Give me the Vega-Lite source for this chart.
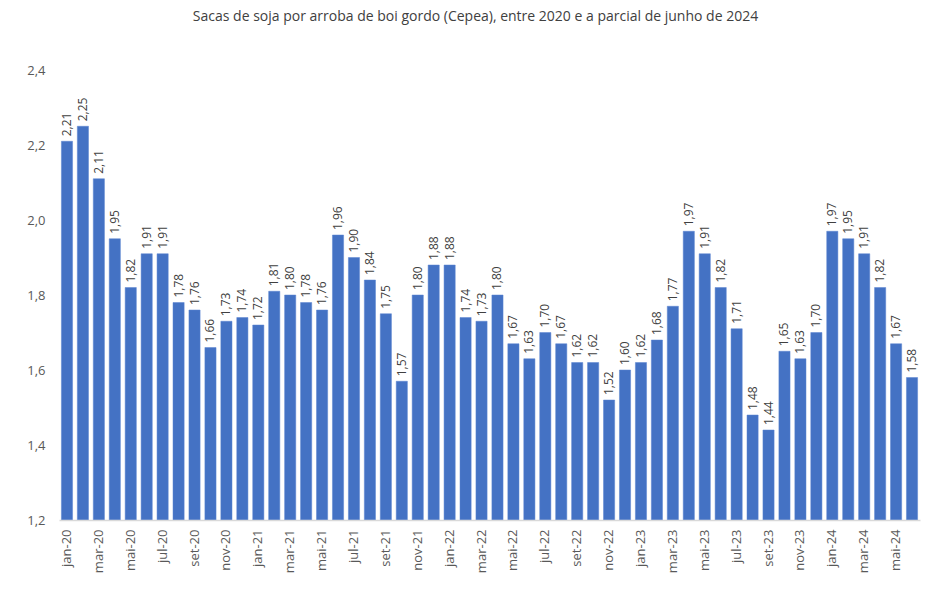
{
  "$schema": "https://vega.github.io/schema/vega-lite/v6.json",
  "width": 861,
  "height": 450,
  "autosize": {"type": "none"},
  "padding": {"left": 59, "top": 70, "right": 30, "bottom": 71},
  "background": "white",
  "title": {
    "text": "Sacas de soja por arroba de boi gordo (Cepea), entre 2020 e a parcial de junho de 2024",
    "font": "Open Sans",
    "fontSize": 14,
    "fontWeight": "normal",
    "color": "#404040",
    "anchor": "middle",
    "dx": -14,
    "offset": 40
  },
  "config": {
    "view": {"stroke": null},
    "locale": {"number": {"decimal": ",", "thousands": ".", "grouping": [3], "currency": ["R$", ""]}}
  },
  "data": {
    "values": [
      {"mes": "jan-20", "v": 2.21}, {"mes": "fev-20", "v": 2.25}, {"mes": "mar-20", "v": 2.11}, {"mes": "abr-20", "v": 1.95},
      {"mes": "mai-20", "v": 1.82}, {"mes": "jun-20", "v": 1.91}, {"mes": "jul-20", "v": 1.91}, {"mes": "ago-20", "v": 1.78},
      {"mes": "set-20", "v": 1.76}, {"mes": "out-20", "v": 1.66}, {"mes": "nov-20", "v": 1.73}, {"mes": "dez-20", "v": 1.74},
      {"mes": "jan-21", "v": 1.72}, {"mes": "fev-21", "v": 1.81}, {"mes": "mar-21", "v": 1.80}, {"mes": "abr-21", "v": 1.78},
      {"mes": "mai-21", "v": 1.76}, {"mes": "jun-21", "v": 1.96}, {"mes": "jul-21", "v": 1.90}, {"mes": "ago-21", "v": 1.84},
      {"mes": "set-21", "v": 1.75}, {"mes": "out-21", "v": 1.57}, {"mes": "nov-21", "v": 1.80}, {"mes": "dez-21", "v": 1.88},
      {"mes": "jan-22", "v": 1.88}, {"mes": "fev-22", "v": 1.74}, {"mes": "mar-22", "v": 1.73}, {"mes": "abr-22", "v": 1.80},
      {"mes": "mai-22", "v": 1.67}, {"mes": "jun-22", "v": 1.63}, {"mes": "jul-22", "v": 1.70}, {"mes": "ago-22", "v": 1.67},
      {"mes": "set-22", "v": 1.62}, {"mes": "out-22", "v": 1.62}, {"mes": "nov-22", "v": 1.52}, {"mes": "dez-22", "v": 1.60},
      {"mes": "jan-23", "v": 1.62}, {"mes": "fev-23", "v": 1.68}, {"mes": "mar-23", "v": 1.77}, {"mes": "abr-23", "v": 1.97},
      {"mes": "mai-23", "v": 1.91}, {"mes": "jun-23", "v": 1.82}, {"mes": "jul-23", "v": 1.71}, {"mes": "ago-23", "v": 1.48},
      {"mes": "set-23", "v": 1.44}, {"mes": "out-23", "v": 1.65}, {"mes": "nov-23", "v": 1.63}, {"mes": "dez-23", "v": 1.70},
      {"mes": "jan-24", "v": 1.97}, {"mes": "fev-24", "v": 1.95}, {"mes": "mar-24", "v": 1.91}, {"mes": "abr-24", "v": 1.82},
      {"mes": "mai-24", "v": 1.67}, {"mes": "jun-24", "v": 1.58}
    ]
  },
  "encoding": {
    "x": {
      "field": "mes",
      "type": "nominal",
      "sort": null,
      "scale": {"paddingInner": 0.3, "paddingOuter": 0.15},
      "axis": {
        "title": null,
        "values": ["jan-20","mar-20","mai-20","jul-20","set-20","nov-20","jan-21","mar-21","mai-21","jul-21","set-21","nov-21","jan-22","mar-22","mai-22","jul-22","set-22","nov-22","jan-23","mar-23","mai-23","jul-23","set-23","nov-23","jan-24","mar-24","mai-24"],
        "labelAngle": -90,
        "labelAlign": "right",
        "labelBaseline": "middle",
        "labelFont": "Open Sans",
        "labelFontSize": 13,
        "labelColor": "#595959",
        "labelPadding": 9,
        "ticks": false,
        "domainColor": "#d9d9d9",
        "domainWidth": 1.5,
        "zindex": 1
      }
    },
    "y": {
      "field": "v",
      "type": "quantitative",
      "scale": {"domain": [1.2, 2.4], "zero": false, "nice": false},
      "axis": {
        "title": null,
        "values": [1.2, 1.4, 1.6, 1.8, 2.0, 2.2, 2.4],
        "format": ".1f",
        "grid": false,
        "domain": false,
        "ticks": false,
        "labelFont": "Open Sans",
        "labelFontSize": 13,
        "labelColor": "#595959",
        "labelPadding": 14
      }
    }
  },
  "layer": [
    {
      "mark": {"type": "bar", "color": "#4472C4", "stroke": "#5b85d0", "strokeWidth": 0.5},
      "encoding": {"y2": {"datum": 1.2}}
    },
    {
      "mark": {"type": "text", "angle": -90, "align": "left", "baseline": "middle", "dx": 5, "font": "Open Sans", "fontSize": 12, "color": "#404040"},
      "encoding": {"text": {"field": "v", "type": "quantitative", "format": ".2f"}}
    }
  ]
}
